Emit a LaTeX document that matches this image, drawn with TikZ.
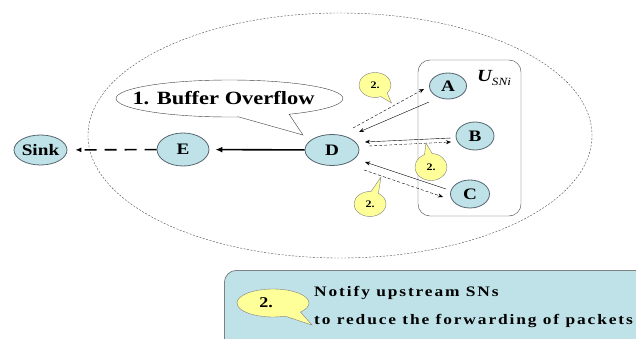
\documentclass[tikz,border=0pt]{standalone}
\usepackage{fontspec}
\setmainfont{Liberation Serif}[FakeStretch=1.2]
\newfontfamily\spacedfont{Liberation Serif}[FakeStretch=1.2, LetterSpace=13]
\usetikzlibrary{%
  arrows.meta,%
  shapes.geometric,%
  shapes.callouts,%
}
\definecolor{snblue}{RGB}{190,226,232}
\definecolor{hintyellow}{RGB}{255,255,153}
\definecolor{rimgray}{RGB}{85,100,110}

\begin{document}
\begin{tikzpicture}[x=1pt, y=1pt, font=\bfseries,
    sn/.style={ellipse, draw=rimgray, fill=snblue, thick, inner sep=0pt, font=\bfseries\fontsize{16}{18}\selectfont},
    hint/.style={ellipse callout, draw=gray, fill=hintyellow, inner sep=0pt, minimum width=32pt, minimum height=25pt, callout pointer arc=28, font=\bfseries\fontsize{10}{12}\selectfont},
    data/.style={-{Stealth[length=5pt, width=4pt]}, thin},
    notify/.style={-{Stealth[length=5pt, width=4pt]}, thin, densely dashed}]
      \useasboundingbox (0,0) rectangle (636,338);
      \node [ellipse, draw=black!70, thin, dash pattern=on 2pt off 1.5pt, minimum width=504pt, minimum height=245pt] (zone) at (340,202.5) {};
      \node [draw=black!75, thin, rounded corners=12pt, minimum width=103pt, minimum height=156pt] (usn) at (469.5,200) {};
      \node [anchor=base west, inner sep=0pt] (ulabel) at (477,257) {\fontsize{17}{20}\selectfont\itshape U\raisebox{-4pt}{\mdseries\fontsize{11}{12}\selectfont SNi}};
      \node [sn, minimum width=53pt, minimum height=30pt] (sink) at (40.5,188) {Sink};
      \node [sn, minimum width=52pt, minimum height=33pt] (E) at (183,188.5) {E};
      \node [sn, minimum width=54pt, minimum height=31pt] (D) at (332,188) {D};
      \node [sn, minimum width=37pt, minimum height=26pt] (A) at (448,252) {A};
      \node [sn, minimum width=38pt, minimum height=28pt] (B) at (475,202) {B};
      \node [sn, minimum width=39pt, minimum height=28pt] (C) at (470,144) {C};
      % forwarding towards the sink
      \draw [-{Latex[length=7pt, width=6pt]}, line width=1.6pt, shorten >=6pt] (D) -- (E);
      \draw [-{Latex[length=6pt, width=5pt]}, line width=1.6pt, dash pattern=on 12pt off 8pt, shorten >=8pt] (E) -- (sink);
      % upstream traffic and notifications
      \draw [data] ([xshift=-19pt, yshift=-16pt]A.center) -- ([xshift=27pt, yshift=18pt]D.center);
      \draw [notify] ([xshift=21pt, yshift=22pt]D.center) -- ([xshift=-24pt, yshift=-3pt]A.center);
      \draw [data] ([xshift=-24pt, yshift=-2pt]B.center) -- ([xshift=33pt, yshift=8pt]D.center);
      \draw [notify] ([xshift=37pt, yshift=4pt]D.center) -- ([xshift=-24pt, yshift=-6pt]B.center);
      \draw [data] ([xshift=-24pt, yshift=5pt]C.center) -- ([xshift=33pt, yshift=-12pt]D.center);
      \draw [notify] ([xshift=32pt, yshift=-20pt]D.center) -- ([xshift=-27pt, yshift=-3pt]C.center);
      \node [hint, callout absolute pointer={(391.5,235)}] (hintA) at (375,253) {2.};
      \node [hint, minimum height=27pt, callout absolute pointer={(426,195)}] (hintB) at (431,171) {2.};
      \node [hint, callout absolute pointer={(381,161)}] (hintC) at (370,134) {2.};
      % buffer overflow at D
      \node [ellipse callout, draw=black!75, fill=white, inner sep=0pt, minimum width=227pt, minimum height=37pt, callout pointer arc=27, callout absolute pointer={([xshift=-29pt, yshift=15pt]D.center)}] (overflow) at (229.5,239.5) {};
      \node [font=\bfseries\fontsize{18.7}{20}\selectfont] at ([xshift=-6pt]overflow.center) {1. Buffer Overflow};
      % legend
      \begin{scope}
        \clip (0,0) rectangle (636,338);
        \node [draw=gray, fill=snblue, thick, rounded corners=12pt, anchor=north west, minimum width=440pt, minimum height=90pt] (legend) at (224,68) {};
      \end{scope}
      \node [hint, minimum width=72pt, minimum height=28pt, callout pointer arc=30, callout absolute pointer={(312,13)}, font=\bfseries\fontsize{15}{17}\selectfont] (hintkey) at (273,35) {\hspace*{-14pt}2.};
      \node [anchor=base west, inner sep=0pt, font=\spacedfont\bfseries\fontsize{14.5}{16}\selectfont] (notice) at (314,42) {Notify upstream SNs};
      \node [anchor=base west, inner sep=0pt, font=\spacedfont\bfseries\fontsize{14.5}{16}\selectfont] (reason) at (314,14) {to reduce the forwarding of packets};
    \end{tikzpicture}
\end{document}
